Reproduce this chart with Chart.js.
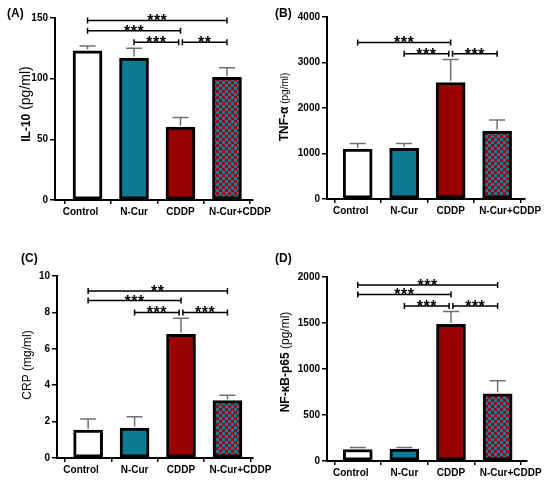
<!DOCTYPE html>
<html>
<head>
<meta charset="utf-8">
<script src="https://cdn.jsdelivr.net/npm/chart.js@4.4.1/dist/chart.umd.min.js"></script>
<style>
  body { margin: 0; background: #fff; width: 550px; height: 486px; position: relative; overflow: hidden; }
  .panel { position: absolute; width: 275px; height: 243px; }
</style>
</head>
<body>
<div class="panel" style="left:0;top:0"><canvas id="chartA"></canvas></div>
<div class="panel" style="left:275px;top:0"><canvas id="chartB"></canvas></div>
<div class="panel" style="left:0;top:243px"><canvas id="chartC"></canvas></div>
<div class="panel" style="left:275px;top:243px"><canvas id="chartD"></canvas></div>
<script>
// Groups on the x axis
const categories = ["Control", "N-Cur", "CDDP", "N-Cur+CDDP"];

// (A) IL-10, pg/ml
const il10Mean = [123, 117, 60, 101];
const il10Err = [4, 8, 8, 8];
const il10Ticks = [0, 50, 100, 150];
const il10Sig = [
  { from: 0, to: 3, y: 148, stars: "***" },
  { from: 0, to: 2, y: 139.5, stars: "***" },
  { from: 1, to: 2, y: 130, stars: "***" },
  { from: 2, to: 3, y: 130, stars: "**" },
];

// (B) TNF-alpha, pg/ml
const tnfMean = [1095, 1115, 2560, 1495];
const tnfErr = [125, 105, 505, 240];
const tnfTicks = [0, 1000, 2000, 3000, 4000];
const tnfSig = [
  { from: 0, to: 2, y: 3440, stars: "***" },
  { from: 1, to: 2, y: 3195, stars: "***" },
  { from: 2, to: 3, y: 3195, stars: "***" },
];

// (C) CRP, mg/ml
const crpMean = [1.53, 1.65, 6.8, 3.15];
const crpErr = [0.61, 0.62, 0.88, 0.3];
const crpTicks = [0, 2, 4, 6, 8, 10];
const crpSig = [
  { from: 0, to: 3, y: 9.18, stars: "**" },
  { from: 0, to: 2, y: 8.65, stars: "***" },
  { from: 1, to: 2, y: 8.0, stars: "***" },
  { from: 2, to: 3, y: 8.0, stars: "***" },
];

// (D) NF-kB-p65, pg/ml
const nfkbMean = [125, 130, 1485, 730];
const nfkbErr = [22, 18, 140, 142];
const nfkbTicks = [0, 500, 1000, 1500, 2000];
const nfkbSig = [
  { from: 0, to: 3, y: 1913, stars: "***" },
  { from: 0, to: 2, y: 1811, stars: "***" },
  { from: 1, to: 2, y: 1684, stars: "***" },
  { from: 2, to: 3, y: 1684, stars: "***" },
];

const FONT = '"Liberation Sans", Arial, sans-serif';
// the outer labels sit a little off their ticks in the original (px)
const LABEL_NUDGE = [-7, 0, 0, 13];
const GROUP_PX = 46.5;

// red / teal checkerboard for the combined group
function checker() {
  const c = document.createElement("canvas");
  c.width = 6; c.height = 6;
  const g = c.getContext("2d");
  g.fillStyle = "#0b7f98";
  g.fillRect(0, 0, 6, 6);
  g.fillStyle = "#a0000f";
  g.fillRect(0, 0, 3, 3);
  g.fillRect(3, 3, 3, 3);
  return g.createPattern(c, "repeat");
}

// upper-only error bars in grey
const errorBars = {
  id: "errorBars",
  afterDatasetsDraw(chart, args, opts) {
    const { ctx } = chart;
    const y = chart.scales.y;
    const ds = chart.data.datasets[0];
    ctx.save();
    ctx.strokeStyle = "#707070";
    ctx.lineWidth = 1.5;
    chart.getDatasetMeta(0).data.forEach((bar, i) => {
      const top = y.getPixelForValue(ds.data[i].y + opts.errors[i]);
      ctx.beginPath();
      ctx.moveTo(bar.x, bar.y - 1.5);
      ctx.lineTo(bar.x, top);
      ctx.moveTo(bar.x - 8, top);
      ctx.lineTo(bar.x + 8, top);
      ctx.stroke();
    });
    ctx.restore();
  },
};

// significance brackets with stars
const brackets = {
  id: "brackets",
  afterDraw(chart, args, opts) {
    const { ctx } = chart;
    const { x, y } = chart.scales;
    const list = opts.list;
    ctx.save();
    ctx.strokeStyle = "#000";
    ctx.fillStyle = "#000";
    ctx.lineWidth = 1.5;
    ctx.font = "bold 16px " + FONT;
    ctx.letterSpacing = "0.5px";
    ctx.textAlign = "center";
    ctx.textBaseline = "alphabetic";
    list.forEach(b => {
      const padL = list.some(o => o !== b && o.to === b.from && o.y === b.y) ? 0.04 : 0;
      const padR = list.some(o => o !== b && o.from === b.to && o.y === b.y) ? 0.04 : 0;
      const x1 = x.getPixelForValue(b.from + padL);
      const x2 = x.getPixelForValue(b.to - padR);
      const py = y.getPixelForValue(b.y);
      ctx.beginPath();
      ctx.moveTo(x1, py); ctx.lineTo(x2, py);
      ctx.moveTo(x1, py - 3); ctx.lineTo(x1, py + 3);
      ctx.moveTo(x2, py - 3); ctx.lineTo(x2, py + 3);
      ctx.stroke();
      ctx.fillText(b.stars, (x1 + x2) / 2, py + 6);
    });
    ctx.restore();
  },
};

// panel letter and mixed-weight y title
const panelText = {
  id: "panelText",
  afterDraw(chart, args, opts) {
    const { ctx } = chart;
    ctx.save();
    ctx.fillStyle = "#000";
    ctx.font = "bold 12px " + FONT;
    ctx.textAlign = "left";
    ctx.textBaseline = "middle";
    ctx.fillText(opts.tag, opts.tagX, opts.tagY);

    let total = 0;
    opts.title.forEach(p => {
      ctx.font = p.font;
      p.w = ctx.measureText(p.text).width;
      total += p.w;
    });
    ctx.translate(opts.titleX, opts.titleY);
    ctx.rotate(-Math.PI / 2);
    ctx.textBaseline = "alphabetic";
    let cx = -total / 2;
    opts.title.forEach(p => {
      ctx.font = p.font;
      ctx.fillText(p.text, cx, 4.5);
      cx += p.w;
    });
    ctx.restore();
  },
};

function makePanel(id, cfg) {
  const fills = ["#ffffff", "#0d7b93", "#990000", checker()];
  const a = cfg.area;
  new Chart(document.getElementById(id), {
    type: "bar",
    data: {
      datasets: [{
        data: cfg.mean.map((v, i) => ({ x: i, y: v })),
        backgroundColor: fills,
        borderColor: "#000",
        borderWidth: 3,
        borderSkipped: false,
        barThickness: 29,
      }],
    },
    options: {
      responsive: true,
      maintainAspectRatio: false,
      animation: false,
      layout: { padding: { left: 0, top: a.top, right: 275 - a.right, bottom: 0 } },
      scales: {
        // axis line and tick marks
        x: {
          type: "linear",
          min: cfg.xMin,
          max: cfg.xMax,
          offset: false,
          afterBuildTicks: s => { s.ticks = categories.map((c, i) => ({ value: i })); },
          afterFit: s => { s.height = 4; },
          ticks: { display: false },
          grid: { drawOnChartArea: false, tickLength: 4, color: "#000", lineWidth: 1.5 },
          border: { color: "#000", width: 2 },
        },
        // group names
        xLabels: {
          type: "linear",
          position: "bottom",
          min: cfg.xMin,
          max: cfg.xMax,
          offset: false,
          afterBuildTicks: s => {
            s.ticks = categories.map((c, i) => ({ value: i + LABEL_NUDGE[i] / GROUP_PX }));
          },
          afterFit: s => { s.height = 243 - a.bottom - 4; },
          ticks: {
            autoSkip: false,
            maxRotation: 0,
            padding: -6,
            color: "#000",
            font: { family: FONT, size: 10, weight: "bold" },
            callback: (v, i) => categories[i],
          },
          grid: { display: false },
          border: { display: false },
        },
        y: {
          min: 0,
          max: cfg.ticks[cfg.ticks.length - 1],
          afterBuildTicks: s => { s.ticks = cfg.ticks.map(v => ({ value: v })); },
          afterFit: s => { s.width = a.left; },
          ticks: {
            padding: 2,
            color: "#000",
            font: { family: FONT, size: 10, weight: "bold" },
            callback: v => String(v),
          },
          grid: { drawOnChartArea: false, tickLength: 5, color: "#000", lineWidth: 1.5 },
          border: { color: "#000", width: 2 },
        },
      },
      plugins: {
        legend: { display: false },
        tooltip: { enabled: false },
        errorBars: { errors: cfg.err },
        brackets: { list: cfg.sig },
        panelText: cfg.text,
      },
    },
    plugins: [errorBars, brackets, panelText],
  });
}

makePanel("chartA", {
  mean: il10Mean, err: il10Err, ticks: il10Ticks, sig: il10Sig,
  area: { left: 55, right: 253, top: 18, bottom: 200 },
  xMin: -0.70, xMax: 3.56,
  text: {
    tag: "(A)", tagX: 7, tagY: 14, titleX: 25, titleY: 104,
    title: [
      { text: "IL-10", font: "bold 12px " + FONT },
      { text: " (pg/ml)", font: "14px " + FONT },
    ],
  },
});

makePanel("chartB", {
  mean: tnfMean, err: tnfErr, ticks: tnfTicks, sig: tnfSig,
  area: { left: 52, right: 250, top: 17, bottom: 199 },
  xMin: -0.66, xMax: 3.6,
  text: {
    tag: "(B)", tagX: 0, tagY: 14, titleX: 8, titleY: 107,
    title: [
      { text: "TNF-α", font: "bold 12px " + FONT },
      { text: " (pg/ml)", font: "10px " + FONT },
    ],
  },
});

makePanel("chartC", {
  mean: crpMean, err: crpErr, ticks: crpTicks, sig: crpSig,
  area: { left: 57, right: 253, top: 33, bottom: 215 },
  xMin: -0.67, xMax: 3.55,
  text: {
    tag: "(C)", tagX: 21, tagY: 16, titleX: 26, titleY: 122,
    title: [
      { text: "CRP (mg/ml)", font: "12px " + FONT },
    ],
  },
});

makePanel("chartD", {
  mean: nfkbMean, err: nfkbErr, ticks: nfkbTicks, sig: nfkbSig,
  area: { left: 52, right: 252, top: 34, bottom: 218 },
  xMin: -0.66, xMax: 3.63,
  text: {
    tag: "(D)", tagX: 0, tagY: 16, titleX: 9, titleY: 119,
    title: [
      { text: "NF-κB-p65", font: "bold 12px " + FONT },
      { text: " (pg/ml)", font: "12px " + FONT },
    ],
  },
});
</script>
</body>
</html>
